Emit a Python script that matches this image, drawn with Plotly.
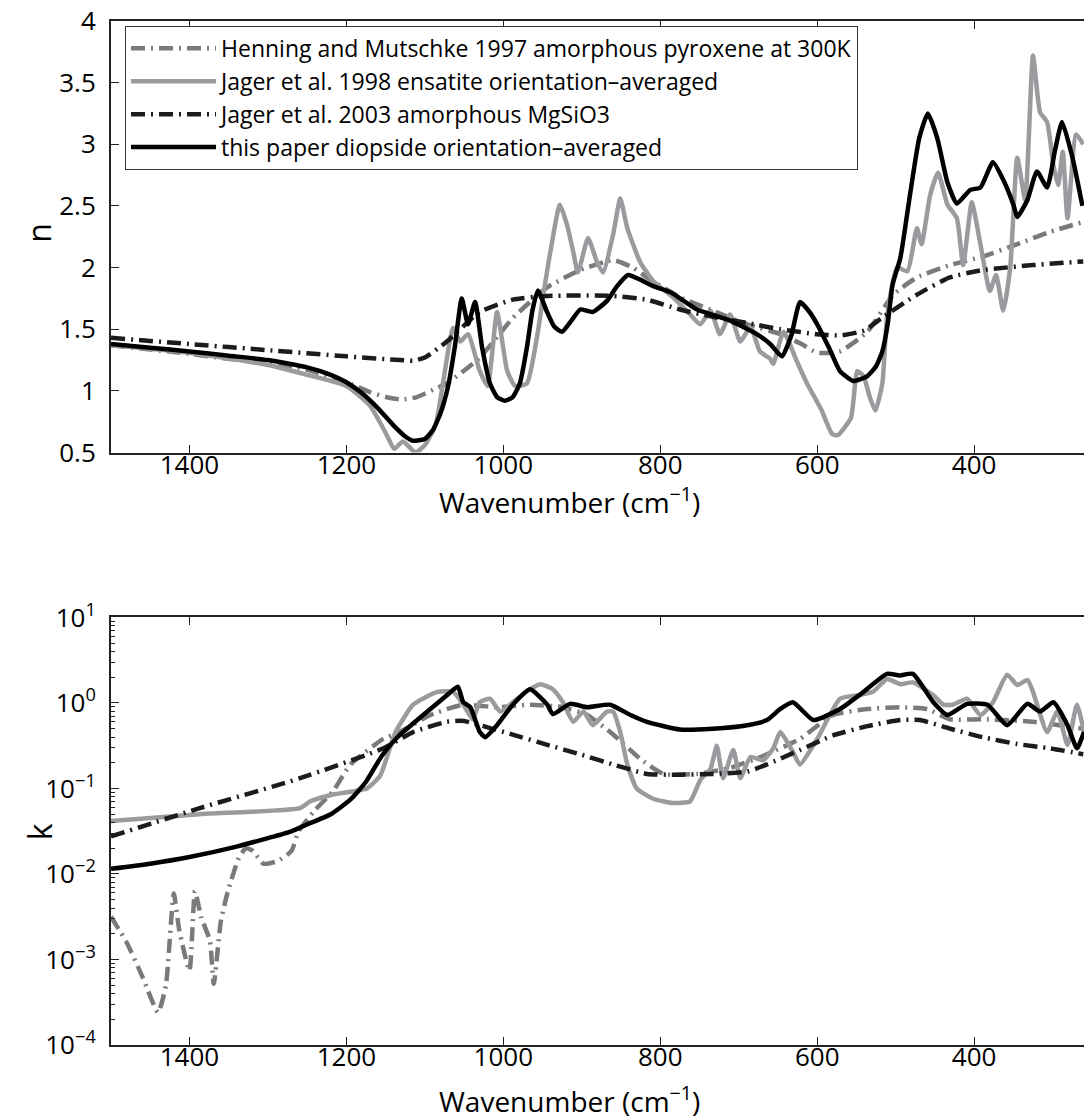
import plotly.graph_objects as go

# ---------------- refractive index n ----------------
# Henning & Mutschke 1997, amorphous pyroxene at 300 K
hm_n_w = [1500, 1400, 1300, 1250, 1200, 1170, 1150, 1130, 1110, 1086, 1072, 1030, 988, 944, 902,
          860, 835, 817, 775, 733, 689, 647, 620, 600, 571, 536, 503, 473, 431, 389, 345, 303, 261]
hm_n = [1.37, 1.30, 1.22, 1.17, 1.07, 0.99, 0.95, 0.93, 0.95, 1.02, 1.06, 1.27, 1.59, 1.84, 1.98,
        2.06, 2.00, 1.92, 1.76, 1.65, 1.54, 1.46, 1.38, 1.31, 1.32, 1.48, 1.78, 1.92, 2.02, 2.09,
        2.19, 2.29, 2.37]

# Jager et al. 1998, enstatite orientation-averaged
j98_n_w = [1500, 1400, 1300, 1250, 1200, 1170, 1150, 1139, 1128, 1112, 1100, 1086, 1077, 1064, 1055,
           1045, 1030, 1020, 1008, 995, 985, 970, 957, 949, 940, 928, 919, 911, 905, 892, 881, 873,
           860, 851, 842, 826, 809, 784, 762, 749, 736, 724, 711, 698, 685, 673, 660, 656, 643, 626,
           613, 595, 581, 574, 557, 549, 541, 533, 526, 517, 511, 498, 485, 473, 467, 456, 446, 434,
           422, 414, 403, 392, 380, 372, 363, 354, 345, 335, 325, 316, 307, 299, 293, 287, 281, 270,
           261]
j98_n = [1.37, 1.31, 1.21, 1.13, 1.04, 0.88, 0.66, 0.53, 0.59, 0.50, 0.56, 0.73, 1.06, 1.51, 1.40,
         1.46, 1.16, 1.04, 1.64, 1.16, 1.04, 1.06, 1.44, 1.78, 2.13, 2.51, 2.35, 2.13, 1.96, 2.24,
         2.05, 1.96, 2.27, 2.56, 2.32, 2.05, 1.89, 1.76, 1.62, 1.54, 1.65, 1.46, 1.62, 1.40, 1.52,
         1.32, 1.26, 1.22, 1.48, 1.24, 1.06, 0.85, 0.65, 0.64, 0.78, 1.16, 1.12, 0.95, 0.84, 1.06,
         1.60, 2.00, 1.97, 2.32, 2.19, 2.59, 2.77, 2.51, 2.40, 2.02, 2.53, 2.19, 1.81, 1.94, 1.65,
         2.00, 2.89, 2.55, 3.72, 3.26, 3.18, 2.83, 2.67, 2.94, 2.40, 3.08, 3.00]

# Jager et al. 2003, amorphous MgSiO3
j03_n_w = [1500, 1400, 1300, 1200, 1132, 1115, 1100, 1072, 1030, 988, 944, 860, 817, 775, 733, 689,
           647, 600, 570, 540, 516, 473, 431, 389, 325, 261]
j03_n = [1.43, 1.38, 1.33, 1.28, 1.25, 1.245, 1.27, 1.40, 1.64, 1.74, 1.77, 1.77, 1.74, 1.66, 1.60,
         1.55, 1.50, 1.46, 1.45, 1.49, 1.60, 1.78, 1.92, 1.98, 2.02, 2.05]

# this paper, diopside orientation-averaged
dio_n_w = [1500, 1450, 1400, 1350, 1300, 1250, 1220, 1200, 1180, 1160, 1140, 1125, 1115, 1100, 1090,
           1080, 1070, 1062, 1053, 1045, 1036, 1027, 1017, 1008, 998, 988, 979, 970, 963, 956, 945,
           935, 925, 912, 902, 886, 868, 855, 841, 825, 809, 787, 753, 711, 677, 660, 645, 633, 622,
           611, 600, 585, 571, 554, 536, 525, 517, 510, 504, 494, 482, 470, 459, 447, 434, 422, 405,
           392, 376, 362, 350, 345, 332, 320, 307, 297, 288, 275, 262]
dio_n = [1.38, 1.35, 1.32, 1.285, 1.25, 1.19, 1.13, 1.07, 0.98, 0.86, 0.72, 0.63, 0.595, 0.61, 0.68,
         0.82, 1.05, 1.35, 1.75, 1.54, 1.72, 1.35, 1.06, 0.95, 0.92, 0.95, 1.06, 1.35, 1.65, 1.815,
         1.65, 1.52, 1.48, 1.58, 1.66, 1.64, 1.73, 1.85, 1.94, 1.90, 1.85, 1.80, 1.66, 1.57, 1.46,
         1.38, 1.28, 1.45, 1.72, 1.65, 1.54, 1.35, 1.16, 1.08, 1.12, 1.20, 1.32, 1.55, 1.86, 2.08,
         2.58, 3.05, 3.25, 3.05, 2.69, 2.52, 2.63, 2.65, 2.855, 2.70, 2.51, 2.41, 2.55, 2.78, 2.65,
         2.95, 3.18, 2.90, 2.50]

# ---------------- extinction coefficient k ----------------
hm_k_w = [1500, 1480, 1460, 1440, 1430, 1420, 1413, 1400, 1393, 1385, 1374, 1369, 1360, 1351, 1337,
          1328, 1319, 1306, 1288, 1270, 1261, 1240, 1217, 1195, 1153, 1132, 1093, 1051, 1008, 966,
          924, 893, 860, 826, 796, 753, 711, 669, 622, 580, 536, 494, 460, 431, 389, 325, 261]
hm_k = [0.00316, 0.00158, 0.00063, 0.00024, 0.0005, 0.0059, 0.0022, 0.00074, 0.0063, 0.0031,
        0.00166, 0.00052, 0.0028, 0.0063, 0.0155, 0.020, 0.0186, 0.0132, 0.0141, 0.0186, 0.0316,
        0.056, 0.093, 0.19, 0.38, 0.457, 0.724, 0.955, 0.891, 0.955, 0.891, 0.724, 0.427, 0.224,
        0.148, 0.148, 0.174, 0.240, 0.380, 0.724, 0.851, 0.891, 0.851, 0.646, 0.646, 0.603, 0.501]

j98_k_w = [1500, 1387, 1259, 1246, 1217, 1174, 1157, 1140, 1135, 1115, 1084, 1064, 1051, 1039, 1030,
           1017, 1004, 988, 966, 953, 937, 924, 911, 898, 886, 868, 860, 851, 842, 830, 809, 784,
           762, 749, 736, 728, 720, 707, 698, 685, 669, 656, 647, 631, 622, 600, 571, 549, 529, 511,
           494, 478, 452, 439, 427, 409, 392, 376, 358, 345, 332, 325, 307, 294, 281, 269, 260]
j98_k = [0.0417, 0.0501, 0.0589, 0.0708, 0.0851, 0.100, 0.141, 0.398, 0.501, 0.955, 1.35, 1.35,
         0.955, 0.646, 1.02, 1.12, 0.794, 1.02, 1.45, 1.66, 1.45, 1.02, 0.603, 0.794, 0.550, 0.794,
         0.794, 0.457, 0.191, 0.100, 0.0759, 0.0676, 0.0708, 0.126, 0.170, 0.316, 0.132, 0.282,
         0.132, 0.234, 0.214, 0.295, 0.457, 0.269, 0.191, 0.380, 1.12, 1.23, 1.35, 1.91, 1.66, 1.74,
         1.23, 0.955, 0.955, 1.12, 0.724, 1.02, 2.14, 1.62, 1.86, 1.35, 0.457, 0.794, 0.324, 0.955,
         0.457]

j03_k_w = [1500, 1387, 1259, 1153, 1115, 1072, 1050, 1030, 988, 944, 902, 860, 817, 775, 733, 689,
           664, 622, 580, 536, 494, 469, 431, 389, 345, 303, 261]
j03_k = [0.0275, 0.0589, 0.132, 0.295, 0.457, 0.603, 0.617, 0.550, 0.427, 0.324, 0.251, 0.191,
         0.148, 0.145, 0.148, 0.158, 0.191, 0.282, 0.417, 0.537, 0.631, 0.631, 0.501, 0.398, 0.331,
         0.295, 0.251]

dio_k_w = [1500, 1450, 1400, 1340, 1300, 1270, 1250, 1220, 1195, 1175, 1155, 1135, 1115, 1093, 1072,
           1058, 1051, 1042, 1030, 1023, 1008, 988, 966, 944, 937, 915, 893, 864, 838, 817, 775, 733,
           689, 664, 647, 631, 605, 571, 545, 511, 495, 478, 452, 434, 409, 383, 358, 332, 316, 299,
           281, 269, 260]
dio_k = [0.0115, 0.0132, 0.0158, 0.0209, 0.0263, 0.0316, 0.038, 0.050, 0.074, 0.120, 0.240, 0.398,
         0.575, 0.851, 1.23, 1.55, 1.02, 0.891, 0.457, 0.398, 0.550, 0.955, 1.45, 0.955, 0.741,
         0.977, 0.891, 0.955, 0.724, 0.603, 0.490, 0.501, 0.550, 0.631, 0.851, 1.02, 0.631, 0.851,
         1.26, 2.19, 2.10, 2.19, 1.02, 0.724, 0.977, 0.955, 0.550, 0.977, 0.794, 1.02, 0.550, 0.295,
         0.457]

# ---------------- labels and styles ----------------
names = [
    "Henning and Mutschke 1997 amorphous pyroxene at 300K",
    "Jager et al. 1998 ensatite orientation\u2013averaged",
    "Jager et al. 2003 amorphous MgSiO3",
    "this paper diopside orientation\u2013averaged",
]
k_tickvals = [1e-4, 1e-3, 1e-2, 1e-1, 1e0, 1e1]
k_ticktext = ["10<sup>\u22124</sup>", "10<sup>\u22123</sup>", "10<sup>\u22122</sup>",
              "10<sup>\u22121</sup>", "10<sup>0</sup>", "10<sup>1</sup>"]

colors = ["#7a7a7a", "#9b9b9f", "#1c1c1c", "#000000"]
dashes = ["14px,6px,2px,6px", "solid", "14px,6px,2px,6px", "solid"]
widths = [4.5, 4.5, 4.5, 4.5]

n_series = [(hm_n_w, hm_n), (j98_n_w, j98_n), (j03_n_w, j03_n), (dio_n_w, dio_n)]
k_series = [(hm_k_w, hm_k), (j98_k_w, j98_k), (j03_k_w, j03_k), (dio_k_w, dio_k)]

FONT = "Open Sans"

fig = go.Figure()
for i in range(4):
    line = dict(color=colors[i], width=widths[i], dash=dashes[i], shape="spline", smoothing=0.5)
    fig.add_trace(go.Scatter(x=n_series[i][0], y=n_series[i][1], mode="lines", name=names[i],
                             line=line, xaxis="x", yaxis="y", legendrank=i + 1))
for i in range(4):
    line = dict(color=colors[i], width=widths[i], dash=dashes[i], shape="spline", smoothing=0.5)
    fig.add_trace(go.Scatter(x=k_series[i][0], y=k_series[i][1], mode="lines", name=names[i],
                             line=line, xaxis="x2", yaxis="y2", showlegend=False))

axis_common = dict(
    showline=True, linecolor="#222222", linewidth=2, ticks="inside", ticklen=8,
    tickwidth=1, tickcolor="#222222", showgrid=False, zeroline=False,
    tickfont=dict(family=FONT, size=26, color="#000000"),
)

xaxis_common = dict(axis_common, range=[1500, 260], tick0=0, dtick=200, mirror="ticks",
                    ticklabelstandoff=-12)

fig.update_layout(
    width=1084, height=1120,
    margin=dict(l=111, r=0, t=15, b=75),
    paper_bgcolor="white", plot_bgcolor="white",
    showlegend=True,
    legend=dict(
        x=0.0144, y=0.9952, xanchor="left", yanchor="top",
        bgcolor="white", bordercolor="#333333", borderwidth=1,
        font=dict(family=FONT, size=23, color="#000000"),
        tracegroupgap=0, itemwidth=85,
    ),
    xaxis=dict(xaxis_common, anchor="y", domain=[0, 1]),
    yaxis=dict(axis_common, anchor="x", domain=[0.5786, 1.0], range=[0.5, 4.0], dtick=0.5,
               tick0=0, ticklabelstandoff=8),
    xaxis2=dict(xaxis_common, anchor="y2", domain=[0, 1]),
    yaxis2=dict(axis_common, anchor="x2", domain=[0.0, 0.4175], type="log", range=[-4, 1],
                tickvals=k_tickvals, ticktext=k_ticktext, ticklabelstandoff=8,
                minor=dict(ticks="inside", ticklen=4, tickcolor="#222222", dtick="D1",
                           showgrid=False)),
)

title_font = dict(family=FONT, size=28, color="#000000")
fig.add_annotation(text="Wavenumber (cm<sup>\u22121</sup>)", xref="paper", yref="paper",
                   x=0.4717, y=0.532, xanchor="center", yanchor="middle", showarrow=False,
                   font=title_font)
fig.add_annotation(text="Wavenumber (cm<sup>\u22121</sup>)", xref="paper", yref="paper",
                   x=0.4717, y=-0.0534, xanchor="center", yanchor="middle", showarrow=False,
                   font=title_font)
fig.add_annotation(text="n", xref="paper", yref="paper", x=-0.074, y=0.7932, textangle=-90,
                   xanchor="center", yanchor="middle", showarrow=False,
                   font=dict(family=FONT, size=32, color="#000000"))
fig.add_annotation(text="k", xref="paper", yref="paper", x=-0.074, y=0.2087, textangle=-90,
                   xanchor="center", yanchor="middle", showarrow=False,
                   font=dict(family=FONT, size=32, color="#000000"))

fig.write_html("out.html")
